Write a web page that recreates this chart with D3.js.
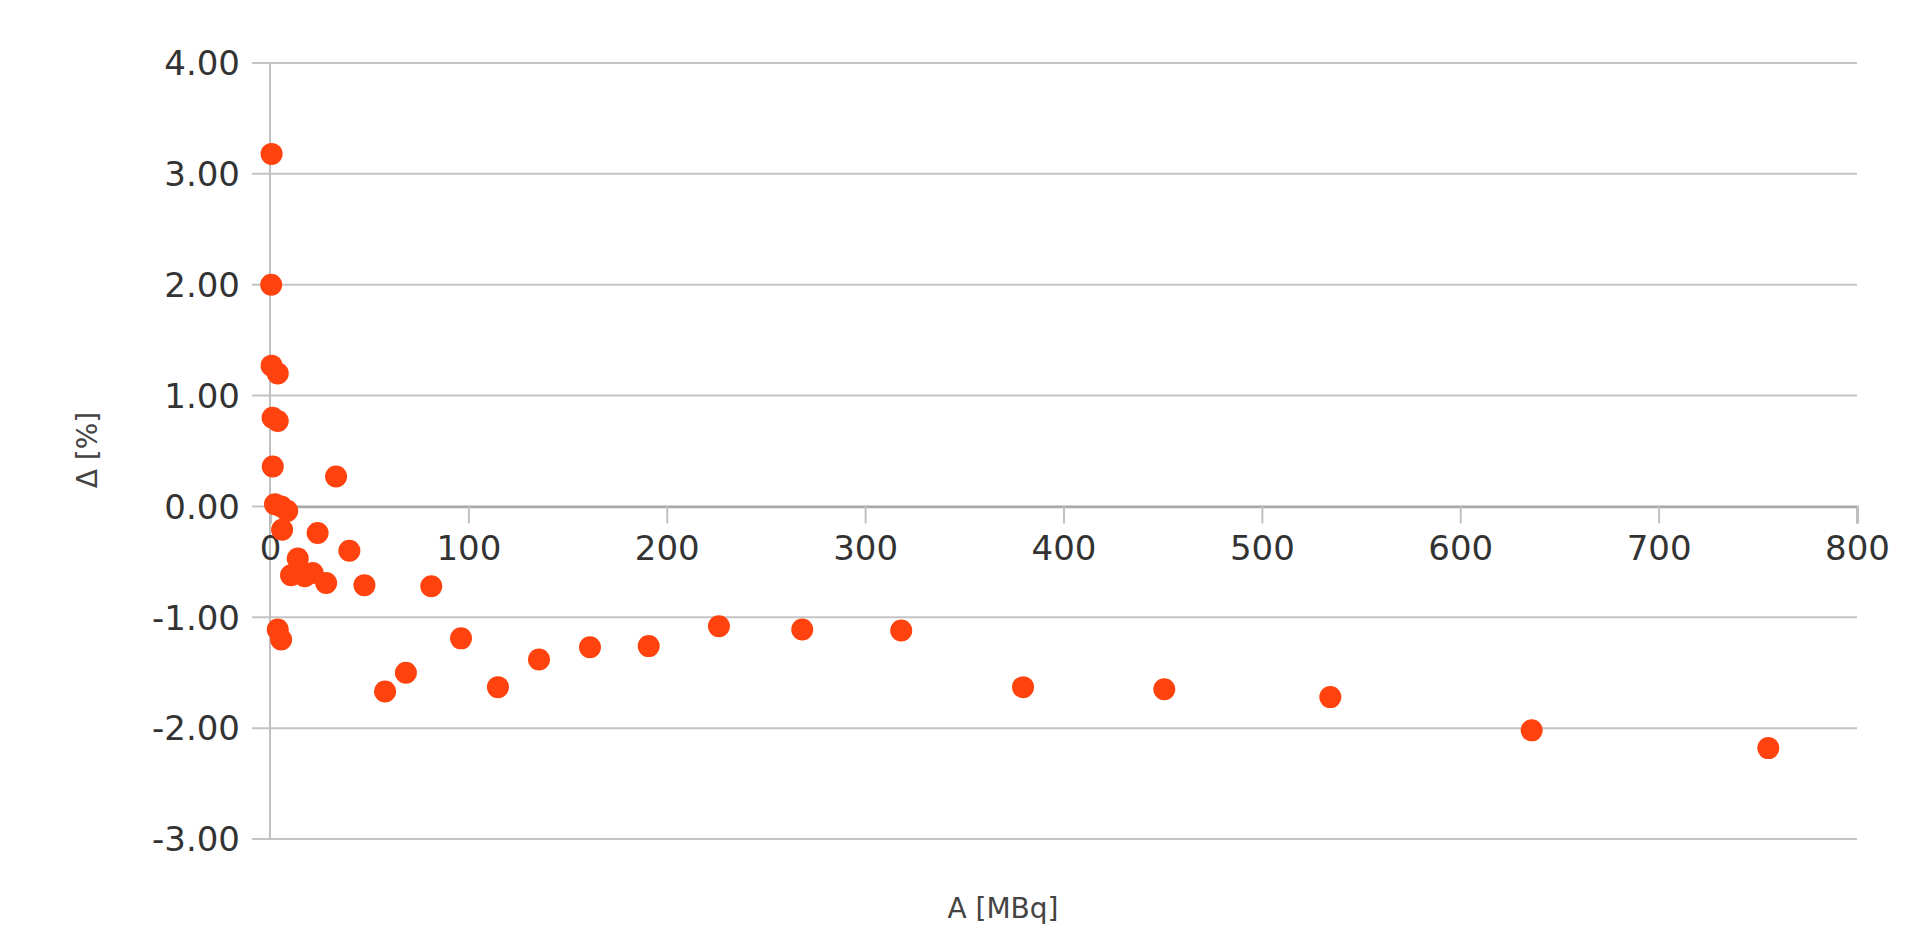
<!DOCTYPE html>
<html>
<head>
<meta charset="utf-8">
<script src="https://cdn.jsdelivr.net/npm/d3@7"></script>
<style>
  body { margin: 0; background: #fff; }
  text { font-family: "DejaVu Sans", sans-serif; fill: #333; }
  .grid line { stroke: #c4c4c4; stroke-width: 2; }
</style>
</head>
<body>
<svg id="main" width="1906" height="928"></svg>
<script>
// activity A [MBq] and deviation Δ [%]
var activity = [0.8, 0.6, 0.8, 3.9, 1.3, 3.9, 1.4, 2.5, 5.7, 8.7, 6.1, 3.9, 5.6,
    10.6, 14, 17.5, 21.5, 24, 28.3, 33.3, 40, 47.6, 58, 68.5, 81.3, 96.3,
    114.9, 135.6, 161.3, 190.9, 226.3, 268.3, 318.2, 379.6, 450.8, 534.5, 636, 755.3];
var delta = [3.18, 2.00, 1.27, 1.20, 0.80, 0.77, 0.36, 0.02, 0.00, -0.04, -0.21, -1.11, -1.20,
    -0.62, -0.47, -0.63, -0.60, -0.24, -0.69, 0.27, -0.40, -0.71, -1.67, -1.50, -0.72, -1.19,
    -1.63, -1.38, -1.27, -1.26, -1.08, -1.11, -1.12, -1.63, -1.65, -1.72, -2.02, -2.18];
var xTicks = [0, 100, 200, 300, 400, 500, 600, 700, 800];
var yTicks = [-3, -2, -1, 0, 1, 2, 3, 4];

var svg = d3.select("#main");

var xScale = d3.scaleLinear()
        .domain([0, 800])
        .range([270, 1857]),
    yScale = d3.scaleLinear()
        .domain([-3, 4])
        .range([839, 63]);

// horizontal grid + y tick labels
var grid = svg.append("g").attr("class", "grid");
grid.selectAll("line")
    .data(yTicks)
    .enter().append("line")
    .attr("x1", 252)
    .attr("x2", xScale(800))
    .attr("y1", function(d) { return yScale(d); })
    .attr("y2", function(d) { return yScale(d); });

svg.append("g")
    .selectAll("text")
    .data(yTicks)
    .enter().append("text")
    .attr("x", 240)
    .attr("y", function(d) { return yScale(d); })
    .attr("dy", "0.36em")
    .attr("text-anchor", "end")
    .style("font-size", "34px")
    .text(function(d) { return d3.format(".2f")(d).replace("−", "-"); });

// y axis line
svg.append("line")
    .attr("x1", xScale(0)).attr("x2", xScale(0))
    .attr("y1", yScale(4)).attr("y2", yScale(-3))
    .attr("stroke", "#c0c0c0")
    .attr("stroke-width", 2);

// x axis sits on zero
var xAxis = svg.append("g")
    .attr("transform", "translate(0," + yScale(0) + ")")
    .call(d3.axisBottom(xScale).tickValues(xTicks).tickSize(17).tickPadding(12).tickFormat(d3.format("d")));
xAxis.select(".domain").attr("stroke", "#a9a9a9").attr("stroke-width", 2.5);
xAxis.selectAll(".tick line").attr("stroke", "#c0c0c0").attr("stroke-width", 2);
xAxis.selectAll(".tick text")
    .style("font-size", "34px")
    .style("font-family", "DejaVu Sans, sans-serif")
    .attr("fill", "#333");

// points
svg.append("g")
    .selectAll("circle")
    .data(activity)
    .enter().append("circle")
    .attr("cx", function(d) { return xScale(d); })
    .attr("cy", function(d, i) { return yScale(delta[i]); })
    .attr("r", 11)
    .attr("fill", "#ff420e");

// axis titles
svg.append("text")
    .attr("x", 1003)
    .attr("y", 918)
    .attr("text-anchor", "middle")
    .style("font-size", "28px")
    .style("fill", "#444")
    .text("A [MBq]");

svg.append("text")
    .attr("transform", "translate(97,450) rotate(-90)")
    .attr("text-anchor", "middle")
    .style("font-size", "28px")
    .style("fill", "#444")
    .text("Δ [%]");
</script>
</body>
</html>
